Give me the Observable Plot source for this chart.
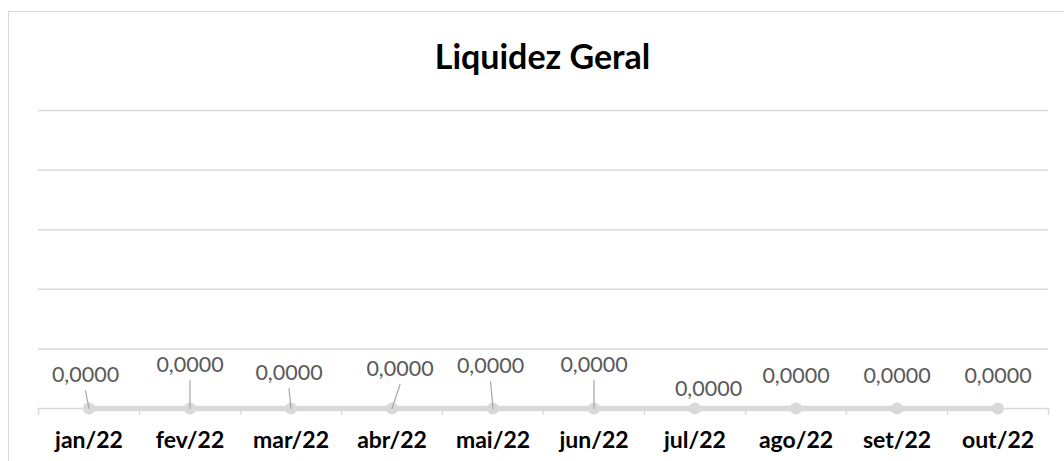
<!DOCTYPE html>
<html>
<head>
<meta charset="utf-8">
<script src="https://cdn.jsdelivr.net/npm/d3@7"></script>
<script src="https://cdn.jsdelivr.net/npm/@observablehq/plot@0.6"></script>
<style>
  html, body { margin: 0; padding: 0; background: #fff; overflow: hidden; }
  #wrap { position: relative; width: 1064px; height: 461px; overflow: hidden; }
  #frame { position: absolute; left: 8px; top: 11px; width: 1300px; height: 600px;
           border: none; border-left: 1.5px solid #d9d9d9; border-top: 1.5px solid #d9d9d9; }
  #title { position: absolute; left: 0; width: 1085px; top: 35px; text-align: center;
           font-family: Lato, "Open Sans", sans-serif; font-weight: 700; font-size: 34px; color: #000; }
  #chart { position: absolute; left: 0; top: 0; }
</style>
</head>
<body>
<div id="wrap">
  <div id="frame"></div>
  <div id="title">Liquidez Geral</div>
  <div id="chart"></div>
</div>
<script>
// ---- data ----
const months = ["jan/22","fev/22","mar/22","abr/22","mai/22","jun/22","jul/22","ago/22","set/22","out/22"];
const values = [0, 0, 0, 0, 0, 0, 0, 0, 0, 0];
const labels = ["0,0000","0,0000","0,0000","0,0000","0,0000","0,0000","0,0000","0,0000","0,0000","0,0000"];
const gridTicks = [1, 2, 3, 4, 5];

// ---- layout of the data labels (pixel offsets from each point, as placed in the original) ----
const labelDx = [-3.5, 0, -2, 8, -2.5, 0, 13.5, 0, 0, 0];
const labelDy = [-27, -37, -29, -33, -36, -37, -13, -26, -26, -26];
const hasLeader = [true, true, true, true, true, true, false, false, false, false];

const data = months.map((m, i) => ({month: m, value: values[i], label: labels[i]}));
const LABEL_FONT = "Lato, 'Open Sans', sans-serif";
const bw = 101;

const leaderShape = { draw(context, l) { context.moveTo(0, 0); context.lineTo(0, -l); } };

const labelMarks = data.map((d, i) =>
  Plot.text([d], {x: "month", y: "value", text: "label", dx: labelDx[i], dy: labelDy[i],
    lineAnchor: "bottom", fill: "#595959", fontSize: 21.5, fontFamily: LABEL_FONT}));

const leaderMarks = data.flatMap((d, i) => {
  if (!hasLeader[i]) return [];
  const tx = labelDx[i], ty = labelDy[i] + 9; // top end of the leader, just under its label
  const length = Math.hypot(tx, ty);
  const rotate = Math.atan2(tx, -ty) * 180 / Math.PI;
  return [Plot.vector([d], {x: "month", y: "value", length, rotate, anchor: "start",
    shape: leaderShape, stroke: "#a6a6a6", strokeWidth: 1.2})];
});

const plot = Plot.plot({
  width: 1064, height: 461,
  marginLeft: 38, marginRight: 16, marginTop: 110, marginBottom: 53,
  x: {type: "band", domain: months, padding: 0},
  y: {domain: [0, 5], axis: null},
  marks: [
    Plot.ruleY(gridTicks, {stroke: "#d9d9d9", strokeWidth: 1.5}),
    Plot.ruleY([0], {stroke: "#d9d9d9", strokeWidth: 1.5}),
    Plot.ruleX(months, {x: d => d, dx: -bw / 2, insetTop: 298, insetBottom: -7, stroke: "#d9d9d9", strokeWidth: 1.5}),
    Plot.ruleX(months.slice(-1), {x: d => d, dx: bw / 2, insetTop: 298, insetBottom: -7, stroke: "#d9d9d9", strokeWidth: 1.5}),
    Plot.line(data, {x: "month", y: "value", stroke: "#d9d9d9", strokeWidth: 5.5}),
    Plot.dot(data, {x: "month", y: "value", r: 6, fill: "#d9d9d9"}),
    ...leaderMarks,
    ...labelMarks,
    Plot.axisX({tickSize: 0, tickPadding: 23, fontSize: 23, fontWeight: 700,
                fontFamily: LABEL_FONT, fill: "#000", label: null})
  ]
});
document.getElementById("chart").appendChild(plot);
</script>
</body>
</html>
